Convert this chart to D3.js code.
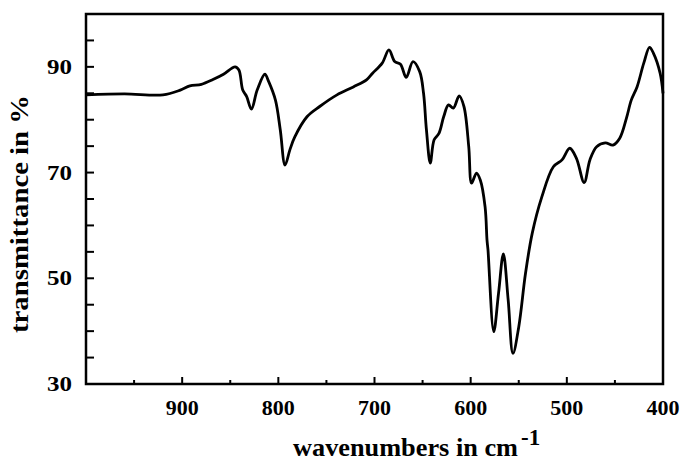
<!DOCTYPE html>
<html>
<head>
<meta charset="utf-8">
<script src="https://cdn.jsdelivr.net/npm/d3@7"></script>
<style>
  body { margin: 0; background: #fff; }
  svg { display: block; }
  text { font-family: "Liberation Serif", "Times New Roman", serif; font-weight: bold; fill: #000; }
</style>
</head>
<body>
<div id="chart"></div>
<script>
const width = 680, height = 463;
const margin = { top: 14, right: 17, bottom: 79, left: 86 };

// spectrum: wavenumber (cm-1) and transmittance (%)
const wavenumbers = [1000, 960, 920, 902, 892, 880, 868, 857, 845, 841, 837, 833, 828, 822, 814, 810, 803, 798, 793, 788, 783, 770, 757, 739, 722, 708, 702, 692, 685, 679, 673, 667, 660, 653, 649, 646, 642, 638, 633, 628, 623, 618, 612, 607, 602, 599, 594, 590, 585, 583, 582, 576, 571, 566, 561, 556, 550, 543, 536, 526, 514, 505, 497, 490, 482, 476, 469, 460, 452, 445, 438, 433, 427, 420, 414, 410, 403, 400];
const transmittance = [84.7, 84.9, 84.7, 85.6, 86.4, 86.7, 87.6, 88.6, 90.0, 89.4, 85.6, 84.4, 82.0, 85.6, 88.6, 87.2, 83.7, 78.1, 71.4, 74.3, 76.7, 80.6, 82.5, 84.7, 86.2, 87.6, 88.8, 90.7, 93.2, 91.0, 90.5, 88.0, 91.0, 89.1, 85.0, 78.1, 71.8, 76.2, 77.4, 80.6, 82.8, 82.2, 84.5, 82.5, 74.9, 68.0, 69.9, 68.6, 63.5, 57.2, 55.4, 39.9, 47.2, 54.6, 45.9, 35.8, 40.8, 50.9, 58.5, 65.4, 71.1, 72.4, 74.6, 72.7, 68.1, 72.4, 74.9, 75.6, 75.2, 76.5, 80.3, 83.7, 86.2, 90.7, 93.7, 92.6, 88.8, 85.0];

const xTickLabels = [900, 800, 700, 600, 500, 400];
const yTickLabels = [30, 50, 70, 90];

const svg = d3.select('#chart').append('svg')
  .attr('width', width)
  .attr('height', height);

const x = d3.scaleLinear()
  .domain([1000, 400])
  .range([margin.left, width - margin.right]);

const y = d3.scaleLinear()
  .domain([30, 100])
  .range([height - margin.bottom, margin.top]);

const points = wavenumbers.map((w, i) => [w, transmittance[i]]);

// x axis: major ticks every 100, minor every 50, pointing inward
const xMinor = d3.range(950, 400, -50);
svg.append('g')
  .attr('transform', `translate(0,${height - margin.bottom})`)
  .selectAll('line')
  .data(xMinor)
  .join('line')
  .attr('x1', d => x(d)).attr('x2', d => x(d))
  .attr('y1', 0).attr('y2', d => d % 100 === 0 ? -7 : -4)
  .attr('stroke', '#000')
  .attr('stroke-width', 2);

svg.append('g')
  .selectAll('text')
  .data(xTickLabels)
  .join('text')
  .attr('x', d => x(d))
  .attr('y', 415)
  .attr('text-anchor', 'middle')
  .attr('font-size', 22)
  .text(d => d);

// y axis: ticks every 5, labels every 20
const yMinor = d3.range(35, 100, 5);
svg.append('g')
  .attr('transform', `translate(${margin.left},0)`)
  .selectAll('line')
  .data(yMinor)
  .join('line')
  .attr('x1', 0).attr('x2', 8)
  .attr('y1', d => y(d)).attr('y2', d => y(d))
  .attr('stroke', '#000')
  .attr('stroke-width', 2);

svg.append('g')
  .selectAll('text')
  .data(yTickLabels)
  .join('text')
  .attr('x', 72)
  .attr('y', d => y(d) + 7)
  .attr('text-anchor', 'end')
  .attr('font-size', 20)
  .attr('textLength', 25)
  .attr('lengthAdjust', 'spacingAndGlyphs')
  .text(d => d);

// the spectrum
svg.append('path')
  .datum(points)
  .attr('fill', 'none')
  .attr('stroke', '#000')
  .attr('stroke-width', 2.8)
  .attr('stroke-linejoin', 'round')
  .attr('d', d3.line()
    .x(d => x(d[0]))
    .y(d => y(d[1]))
    .curve(d3.curveCatmullRom.alpha(0.5)));

// frame
svg.append('rect')
  .attr('x', margin.left)
  .attr('y', margin.top)
  .attr('width', width - margin.left - margin.right)
  .attr('height', height - margin.top - margin.bottom)
  .attr('fill', 'none')
  .attr('stroke', '#000')
  .attr('stroke-width', 2.5);

// axis titles
const xt = svg.append('text')
  .attr('x', 293)
  .attr('y', 456)
  .attr('font-size', 25);
xt.append('tspan')
  .attr('textLength', 225)
  .attr('lengthAdjust', 'spacingAndGlyphs')
  .text('wavenumbers  in cm');
xt.append('tspan').attr('dy', -11).attr('dx', 3).attr('font-size', 23).text('-1');

svg.append('text')
  .attr('transform', 'translate(28,214) rotate(-90)')
  .attr('text-anchor', 'middle')
  .attr('font-size', 25)
  .attr('textLength', 238)
  .attr('lengthAdjust', 'spacingAndGlyphs')
  .text('transmittance in  %');
</script>
</body>
</html>
